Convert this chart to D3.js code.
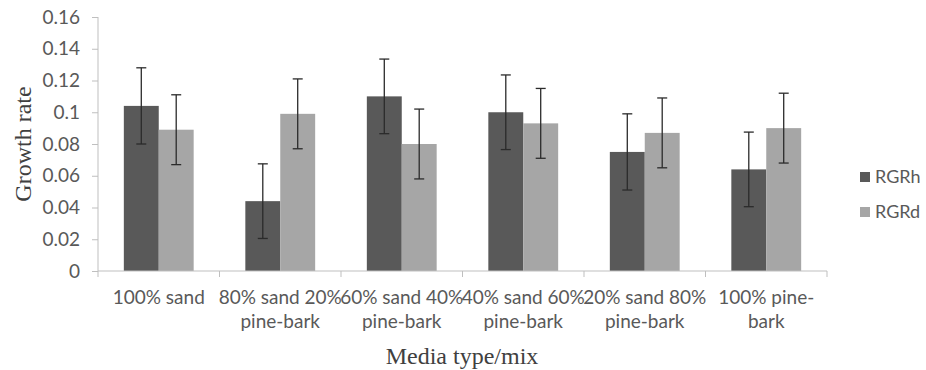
<!DOCTYPE html>
<html>
<head>
<meta charset="utf-8">
<script src="https://cdn.jsdelivr.net/npm/d3@7"></script>
<style>
  body { margin: 0; background: #fff; }
  svg { display: block; }
</style>
</head>
<body>
<script>
// data
var categories = ["100% sand", "80% sand 20% pine-bark", "60% sand 40% pine-bark",
  "40% sand 60% pine-bark", "20% sand 80% pine-bark", "100% pine-bark"];
var categoryLines = [["100% sand"], ["80% sand 20%", "pine-bark"], ["60% sand 40%", "pine-bark"],
  ["40% sand 60%", "pine-bark"], ["20% sand 80%", "pine-bark"], ["100% pine-", "bark"]];
var series = ["RGRh", "RGRd"];
var rgrh = [0.104, 0.044, 0.110, 0.100, 0.075, 0.064];
var rgrd = [0.089, 0.099, 0.080, 0.093, 0.087, 0.090];
var rgrhErr = [0.024, 0.0235, 0.0235, 0.0235, 0.024, 0.0235];
var rgrdErr = [0.022, 0.022, 0.022, 0.022, 0.022, 0.022];
var yTicks = [0, 0.02, 0.04, 0.06, 0.08, 0.1, 0.12, 0.14, 0.16];
var colors = ["#595959", "#a6a6a6"];

var width = 926, height = 370;
var plotLeft = 98, plotRight = 827, plotTop = 17, plotBottom = 271;

var svg = d3.select("body").append("svg")
    .attr("width", width)
    .attr("height", height);

var x0 = d3.scaleBand().domain(categories).range([plotLeft, plotRight]);
var x1 = d3.scaleBand().domain(series).range([0, x0.bandwidth()]).paddingOuter(0.74);
var y = d3.scaleLinear().domain([0, 0.16]).range([plotBottom, plotTop]);
var color = d3.scaleOrdinal().domain(series).range(colors);

var rows = [];
categories.forEach(function(c, i) {
  rows.push({cat: c, s: "RGRh", v: rgrh[i], e: rgrhErr[i]});
  rows.push({cat: c, s: "RGRd", v: rgrd[i], e: rgrdErr[i]});
});

// bars
svg.selectAll("rect.bar")
    .data(rows)
  .enter().append("rect")
    .attr("class", "bar")
    .attr("x", function(d) { return x0(d.cat) + x1(d.s); })
    .attr("y", function(d) { return y(d.v); })
    .attr("width", x1.bandwidth())
    .attr("height", function(d) { return y(0) - y(d.v); })
    .style("fill", function(d) { return color(d.s); });

// error bars
var eb = svg.selectAll("g.err")
    .data(rows)
  .enter().append("g")
    .attr("class", "err")
    .attr("transform", function(d) { return "translate(" + (x0(d.cat) + x1(d.s) + x1.bandwidth() / 2) + ",0)"; })
    .style("stroke", "#2b2b2b")
    .style("stroke-width", 1.3);
eb.append("line")
    .attr("y1", function(d) { return y(d.v + d.e); })
    .attr("y2", function(d) { return y(d.v - d.e); });
eb.append("line")
    .attr("x1", -5).attr("x2", 5)
    .attr("y1", function(d) { return y(d.v + d.e); })
    .attr("y2", function(d) { return y(d.v + d.e); });
eb.append("line")
    .attr("x1", -5).attr("x2", 5)
    .attr("y1", function(d) { return y(d.v - d.e); })
    .attr("y2", function(d) { return y(d.v - d.e); });

// y axis
var yAxis = svg.append("g")
    .attr("transform", "translate(" + plotLeft + ",0)")
    .call(d3.axisLeft(y).tickValues(yTicks).tickSize(6).tickPadding(12)
      .tickFormat(function(d) { return d === 0 ? "0" : String(+d.toFixed(2)); }));
yAxis.select(".domain").attr("d", "M0," + plotTop + "V" + plotBottom).style("stroke", "#bfbfbf");
yAxis.selectAll(".tick line").style("stroke", "#bfbfbf");
yAxis.selectAll("text")
    .style("font-family", "Lato, sans-serif")
    .style("font-size", "19px")
    .style("fill", "#595959");

// x axis
var xAxis = svg.append("g")
    .attr("transform", "translate(0," + plotBottom + ")");
xAxis.append("line")
    .attr("x1", plotLeft).attr("x2", plotRight)
    .style("stroke", "#bfbfbf");
xAxis.selectAll("line.tk")
    .data(categories.concat([null]))
  .enter().append("line")
    .attr("class", "tk")
    .attr("x1", function(d) { return d === null ? plotRight : x0(d); })
    .attr("x2", function(d) { return d === null ? plotRight : x0(d); })
    .attr("y1", 0).attr("y2", 6)
    .style("stroke", "#bfbfbf");
var xl = xAxis.selectAll("text.xl")
    .data(categories)
  .enter().append("text")
    .attr("class", "xl")
    .attr("transform", function(d) { return "translate(" + (x0(d) + x0.bandwidth() / 2) + ",33)"; })
    .attr("text-anchor", "middle")
    .style("font-family", "Lato, sans-serif")
    .style("font-size", "19px")
    .style("fill", "#595959");
xl.each(function(d, i) {
  d3.select(this).selectAll("tspan")
      .data(categoryLines[i])
    .enter().append("tspan")
      .attr("x", 0)
      .attr("y", function(t, j) { return j * 24; })
      .text(function(t) { return t; });
});

// axis titles
svg.append("text")
    .attr("transform", "translate(31,144) rotate(-90)")
    .attr("text-anchor", "middle")
    .style("font-family", "'Liberation Serif', 'Times New Roman', serif")
    .style("font-size", "24px")
    .style("fill", "#404040")
    .text("Growth rate");
svg.append("text")
    .attr("x", 462).attr("y", 364)
    .attr("text-anchor", "middle")
    .style("font-family", "'Liberation Serif', 'Times New Roman', serif")
    .style("font-size", "24px")
    .style("fill", "#404040")
    .text("Media type/mix");

// legend
var legend = svg.selectAll("g.legend")
    .data(series)
  .enter().append("g")
    .attr("class", "legend")
    .attr("transform", function(d, i) { return "translate(860," + (177 + i * 35) + ")"; });
legend.append("rect")
    .attr("x", 0).attr("y", -5)
    .attr("width", 10).attr("height", 10)
    .style("fill", function(d) { return color(d); });
legend.append("text")
    .attr("x", 15).attr("dy", "0.35em")
    .style("font-family", "Lato, sans-serif")
    .style("font-size", "18px")
    .style("fill", "#595959")
    .text(function(d) { return d; });
</script>
</body>
</html>
